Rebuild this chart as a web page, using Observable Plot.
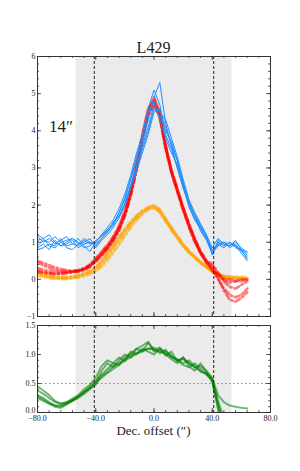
<!DOCTYPE html>
<html><head><meta charset="utf-8">
<script src="https://cdn.jsdelivr.net/npm/d3@7"></script>
<script src="https://cdn.jsdelivr.net/npm/@observablehq/plot@0.6"></script>
<style>
body{margin:0;background:#fff;}
#wrap{position:relative;width:300px;height:471px;font-family:"Liberation Serif",serif;color:#222;}
#wrap svg{position:absolute;left:0;}
.t{position:absolute;line-height:1;white-space:nowrap;}
</style></head>
<body><div id="wrap"></div>
<script>
const title = "L429";
const beamLabel = "14″";
const xLabel = "Dec. offset (″)";
const xs = [-80,-76,-72,-68,-64,-60,-56,-52,-48,-44,-40,-36,-32,-28,-24,-20,-16,-12,-8,-4,0,4,8,12,16,20,24,28,32,36,40,44,48,52,56,60,64];
const blueProfiles = [
 [1.15,1.0,1.1,0.95,1.05,1.15,0.95,0.9,1.05,0.95,1.0,1.2,1.3,1.45,1.8,2.2,2.7,3.2,3.7,4.3,4.9,5.3,4.2,3.6,3.0,2.5,2.0,1.6,1.4,1.1,0.75,1.0,0.9,1.0,0.85,0.8,0.55],
 [0.85,0.95,0.8,1.05,0.9,0.95,1.05,0.85,0.95,1.0,0.95,1.1,1.25,1.55,1.7,2.0,2.5,3.0,3.5,4.0,4.6,4.4,4.0,3.7,3.2,2.6,2.1,1.7,1.3,1.05,0.7,0.9,1.0,0.85,0.95,0.75,0.6],
 [1.05,1.1,1.2,1.0,0.9,1.0,1.1,1.0,0.85,0.9,1.05,1.15,1.35,1.5,1.8,2.15,2.7,3.3,3.8,4.5,4.8,4.3,3.8,3.4,3.1,2.6,2.0,1.7,1.4,1.15,0.65,1.05,0.95,0.9,1.0,0.85,0.7],
 [0.8,0.85,0.95,0.9,1.1,0.85,0.8,0.95,1.0,1.1,0.85,1.05,1.2,1.4,1.65,2.0,2.45,2.9,3.4,3.9,4.5,4.6,4.1,3.6,3.2,2.5,1.95,1.6,1.35,1.1,0.8,0.95,0.85,1.0,0.9,0.7,0.5],
 [0.9,1.05,1.0,1.15,1.0,0.9,0.95,1.1,0.9,0.75,1.0,1.2,1.4,1.6,1.9,2.3,2.8,3.4,3.9,4.6,5.1,4.7,3.9,3.5,3.0,2.45,2.05,1.75,1.45,1.2,0.85,1.1,0.95,0.9,1.05,0.8,0.65],
 [1.2,1.1,0.9,0.85,1.0,1.05,1.1,0.95,1.1,1.0,0.9,1.1,1.3,1.5,1.7,2.05,2.55,3.05,3.6,4.1,4.7,4.5,4.3,3.8,3.3,2.7,2.15,1.8,1.5,1.2,0.7,0.95,1.0,0.95,0.9,0.8,0.75]
];
const redProfiles = [
 [0.5,0.44,0.38,0.32,0.28,0.25,0.23,0.24,0.28,0.38,0.55,0.72,0.9,1.12,1.4,1.8,2.35,3.05,3.85,4.55,4.9,4.5,3.6,2.95,2.45,1.95,1.5,1.1,0.75,0.5,0.3,0.05,-0.3,-0.55,-0.6,-0.5,-0.35],
 [0.25,0.2,0.16,0.14,0.15,0.17,0.2,0.23,0.28,0.36,0.5,0.66,0.84,1.06,1.34,1.72,2.25,2.95,3.75,4.45,4.75,4.35,3.5,2.85,2.35,1.85,1.4,1.0,0.7,0.45,0.25,0.1,-0.02,-0.08,-0.05,0.0,0.0],
 [0.3,0.26,0.22,0.2,0.2,0.2,0.22,0.25,0.3,0.4,0.56,0.74,0.92,1.15,1.44,1.85,2.4,3.1,3.9,4.6,4.8,4.35,3.55,2.9,2.4,1.9,1.45,1.05,0.7,0.45,0.25,0.0,-0.25,-0.42,-0.48,-0.42,-0.25],
 [0.45,0.38,0.31,0.26,0.23,0.21,0.2,0.21,0.25,0.34,0.5,0.68,0.86,1.08,1.36,1.76,2.3,3.0,3.8,4.5,4.85,4.45,3.6,2.9,2.4,1.9,1.45,1.05,0.72,0.48,0.35,0.15,0.02,0.0,-0.05,-0.05,0.0],
 [0.2,0.18,0.16,0.15,0.16,0.17,0.19,0.22,0.27,0.35,0.48,0.64,0.82,1.04,1.32,1.7,2.25,2.95,3.75,4.4,4.7,4.4,3.55,2.9,2.42,1.92,1.48,1.08,0.74,0.5,0.42,0.18,-0.05,-0.2,-0.25,-0.15,-0.05]
];
const orangeProfiles = [
 [0.15,0.1,0.06,0.04,0.03,0.03,0.05,0.08,0.12,0.18,0.27,0.42,0.62,0.84,1.05,1.27,1.48,1.66,1.8,1.92,2.0,1.88,1.62,1.38,1.15,0.92,0.75,0.6,0.45,0.33,0.2,0.12,0.07,0.04,0.03,0.03,0.0],
 [0.2,0.14,0.1,0.08,0.07,0.07,0.09,0.12,0.17,0.24,0.34,0.52,0.74,0.96,1.16,1.36,1.55,1.72,1.85,1.95,1.98,1.82,1.58,1.34,1.12,0.9,0.72,0.58,0.44,0.32,0.2,0.13,0.09,0.06,0.05,0.04,0.03],
 [0.1,0.06,0.03,0.02,0.01,0.01,0.03,0.05,0.09,0.14,0.22,0.34,0.52,0.72,0.94,1.17,1.4,1.6,1.76,1.88,1.95,1.86,1.64,1.4,1.17,0.95,0.77,0.62,0.47,0.34,0.22,0.12,0.06,0.03,0.02,0.02,0.0],
 [0.18,0.12,0.08,0.05,0.04,0.04,0.06,0.09,0.14,0.2,0.3,0.46,0.68,0.9,1.1,1.32,1.52,1.7,1.83,1.9,1.92,1.8,1.56,1.33,1.12,0.9,0.73,0.59,0.46,0.34,0.23,0.15,0.1,0.08,0.07,0.06,0.05]
];
const greenRatios = [
 [0.45,0.38,0.3,0.2,0.15,0.17,0.22,0.28,0.35,0.42,0.5,0.72,0.85,0.78,0.9,1.0,0.95,1.1,1.05,1.2,1.08,1.12,0.98,1.05,0.88,0.95,0.85,0.78,0.8,0.72,0.6,0.3,0.18,0.12,0.1,0.08,0.07],
 [0.3,0.25,0.18,0.12,0.1,0.15,0.2,0.25,0.32,0.4,0.48,0.62,0.7,0.8,0.85,0.92,1.0,1.0,1.08,1.1,1.12,1.02,1.08,0.95,0.92,0.85,0.9,0.8,0.7,0.68,0.58,0.1,-0.3],
 [0.25,0.2,0.15,0.1,0.08,0.14,0.2,0.27,0.35,0.45,0.55,0.65,0.75,0.85,0.82,0.95,1.02,1.1,1.15,1.22,1.05,1.08,1.0,0.92,0.85,0.95,0.8,0.72,0.85,0.7,0.52,0.05,-0.3],
 [0.38,0.32,0.25,0.18,0.15,0.18,0.24,0.3,0.4,0.48,0.6,0.8,0.9,0.85,0.95,0.88,1.05,1.02,1.1,1.05,1.0,1.1,1.05,0.98,0.9,0.82,0.78,0.85,0.75,0.65,0.55,0.2,-0.1],
 [0.28,0.22,0.16,0.12,0.12,0.16,0.21,0.28,0.36,0.42,0.52,0.6,0.68,0.75,0.82,0.9,0.95,1.02,1.05,1.1,1.08,1.05,1.02,0.96,0.9,0.92,0.85,0.78,0.72,0.66,0.58,0.15,-0.2]
];
const shadeBand = [{x1: -53.5, x2: 53.5}];
const edgeOffsets = [-41, 41];
const ratioLevel = [0.5];
const xDomain = [-80, 80];
const yTopDomain = [-1, 6];
const yBotDomain = [0, 1.5];
const xMajor = [-80, -40, 0, 40, 80];
const xTickLabels = ["−80.0", "−40.0", "0.0", "40.0", "80.0"];
const yTopMajor = [-1, 0, 1, 2, 3, 4, 5, 6];
const yTopLabels = ["−1", "0", "1", "2", "3", "4", "5", "6"];
const yBotMajor = [0, 0.5, 1.0, 1.5];
const yBotLabels = ["0.0", "0.5", "1.0", "1.5"];

const xMinor = d3.range(-80, 80.001, 8);
const yTopMinor = d3.range(-1, 6.001, 0.2);
const yBotMinor = d3.range(0, 1.5001, 0.1);

const rows = (arrs, g) => arrs.flatMap((a, k) => a.map((v, i) => ({x: xs[i], y: v, s: g + k})));
const yBotRows = yBotMajor.map((v, i) => ({y: v, label: yBotLabels[i]}));

const W = 300, ML = 37, MR = 30;
const FW = W - ML - MR;
const fontStyle = {fontFamily: "Liberation Serif, serif", fontSize: "8px", color: "#222", background: "transparent", overflow: "visible"};
const ink = "#333";

function tickMarks(fh, yMaj, yMin) {
  return [
    Plot.tickX(xMinor, {x: d => d, insetTop: fh - 2, stroke: ink, strokeWidth: 0.8}),
    Plot.tickX(xMinor, {x: d => d, insetBottom: fh - 2, stroke: ink, strokeWidth: 0.8}),
    Plot.tickX(xMajor, {x: d => d, insetTop: fh - 4, stroke: ink, strokeWidth: 0.8}),
    Plot.tickX(xMajor, {x: d => d, insetBottom: fh - 4, stroke: ink, strokeWidth: 0.8}),
    Plot.tickY(yMin, {y: d => d, insetRight: FW - 2, stroke: ink, strokeWidth: 0.8}),
    Plot.tickY(yMin, {y: d => d, insetLeft: FW - 2, stroke: ink, strokeWidth: 0.8}),
    Plot.tickY(yMaj, {y: d => d, insetRight: FW - 4, stroke: ink, strokeWidth: 0.8}),
    Plot.tickY(yMaj, {y: d => d, insetLeft: FW - 4, stroke: ink, strokeWidth: 0.8}),
    Plot.frame({stroke: ink, strokeWidth: 1})
  ];
}

const dashDot = "5,3,1.5,3";

const H1 = 320, MT1 = 56, MB1 = 4;
const topPlot = Plot.plot({
  width: W, height: H1, marginLeft: ML, marginRight: MR, marginTop: MT1, marginBottom: MB1,
  style: fontStyle,
  x: {domain: xDomain, axis: null},
  y: {domain: yTopDomain, ticks: yTopMajor, tickSize: 0, tickPadding: 2,
      tickFormat: d => yTopLabels[yTopMajor.indexOf(d)], label: null},
  marks: [
    Plot.rect(shadeBand, {x1: "x1", x2: "x2", fill: "#ebebeb"}),
    Plot.line(rows(orangeProfiles, "o"), {x: "x", y: "y", z: "s", stroke: "orange", strokeOpacity: 0.6, strokeWidth: 2.8, strokeDasharray: dashDot, clip: true}),
    Plot.line(rows(redProfiles, "r"), {x: "x", y: "y", z: "s", stroke: "red", strokeOpacity: 0.5, strokeWidth: 2.8, strokeDasharray: dashDot, clip: true}),
    Plot.line(rows(blueProfiles, "b"), {x: "x", y: "y", z: "s", stroke: "#1e90ff", strokeWidth: 1, clip: true}),
    Plot.ruleX(edgeOffsets, {x: d => d, stroke: "#222", strokeWidth: 1, strokeDasharray: "3,2"}),
    ...tickMarks(H1 - MT1 - MB1, yTopMajor, yTopMinor)
  ]
});

const H2 = 151, MT2 = 5, MB2 = 59;
const botPlot = Plot.plot({
  width: W, height: H2, marginLeft: ML, marginRight: MR, marginTop: MT2, marginBottom: MB2,
  style: fontStyle,
  x: {domain: xDomain, ticks: xMajor, tickSize: 0, tickPadding: 3,
      tickFormat: d => xTickLabels[xMajor.indexOf(d)], label: null},
  y: {domain: yBotDomain, axis: null},
  marks: [
    Plot.rect(shadeBand, {x1: "x1", x2: "x2", fill: "#ebebeb"}),
    Plot.ruleY(ratioLevel, {y: d => d, stroke: "#888", strokeWidth: 1.2, strokeDasharray: "1.5,2.5"}),
    Plot.line(rows(greenRatios, "g"), {x: "x", y: "y", z: "s", stroke: "green", strokeOpacity: 0.55, strokeWidth: 2, clip: true}),
    Plot.ruleX(edgeOffsets, {x: d => d, stroke: "#222", strokeWidth: 1, strokeDasharray: "3,2"}),
    ...tickMarks(H2 - MT2 - MB2, yBotMajor, yBotMinor),
    // y tick labels: the lowest one sits just above its tick so it clears the first x label
    Plot.text(yBotRows.slice(1), {y: "y", text: "label", frameAnchor: "left", textAnchor: "end", dx: -2, lineAnchor: "middle", fill: "#222"}),
    Plot.text(yBotRows.slice(0, 1), {y: "y", text: "label", frameAnchor: "left", textAnchor: "end", dx: -2, lineAnchor: "bottom", fill: "#222"})
  ]
});

const wrap = document.getElementById("wrap");
topPlot.style.top = "0px";
botPlot.style.top = H1 + "px";
wrap.appendChild(topPlot);
wrap.appendChild(botPlot);

function addText(txt, cx, topPx, size, align) {
  const d = document.createElement("div");
  d.className = "t";
  d.textContent = txt;
  d.style.fontSize = size + "px";
  d.style.top = topPx + "px";
  if (align === "center") { d.style.left = (cx - 100) + "px"; d.style.width = "200px"; d.style.textAlign = "center"; }
  else { d.style.left = cx + "px"; }
  wrap.appendChild(d);
}
const cx = ML + FW / 2;
addText(title, cx, 39.5, 16, "center");
addText(beamLabel, 49, 118, 17, "left");
addText(xLabel, cx, 424, 13, "center");
</script>
</body></html>
